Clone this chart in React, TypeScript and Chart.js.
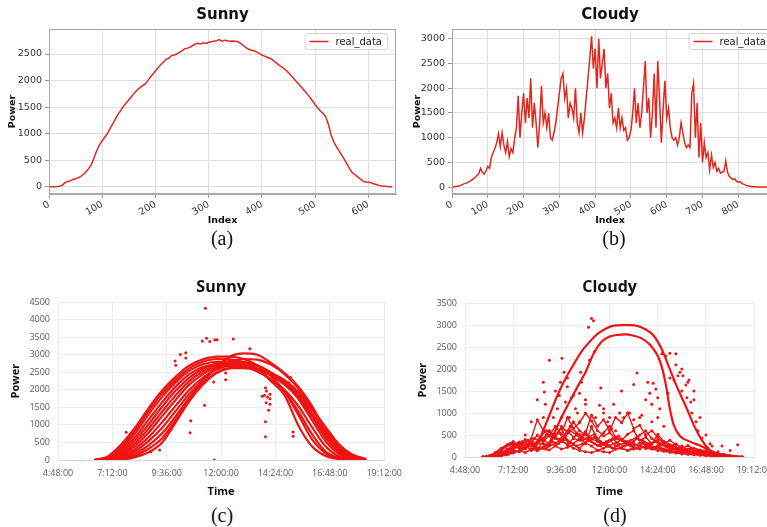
import React, { useEffect, useRef } from "react";
import { Chart, registerables } from "chart.js";
Chart.register(...registerables);

// ---------------- (a) Sunny, index series ----------------
const sunnyIndexStep = 5;
const sunnyPower = [
  5, 3, 6, 8, 12, 35, 80, 105, 115, 140, 155, 175, 200, 240, 290, 350, 430, 560, 690, 790,
  870, 940, 1010, 1100, 1190, 1280, 1370, 1440, 1520, 1580, 1640, 1700, 1760, 1820, 1860, 1900, 1930, 1990, 2060, 2120,
  2180, 2240, 2300, 2350, 2400, 2420, 2470, 2480, 2500, 2530, 2560, 2600, 2610, 2630, 2660, 2690, 2700, 2690, 2710, 2700,
  2720, 2730, 2740, 2750, 2770, 2740, 2760, 2750, 2740, 2745, 2740, 2730, 2700, 2660, 2620, 2590, 2570, 2560, 2540, 2510,
  2480, 2460, 2440, 2420, 2390, 2350, 2310, 2270, 2240, 2200, 2150, 2090, 2040, 1980, 1920, 1870, 1810, 1750, 1690, 1620,
  1550, 1490, 1430, 1380, 1320, 1180, 980, 850, 760, 680, 600, 520, 430, 340, 270, 230, 190, 150, 110, 95,
  90, 80, 60, 45, 30, 20, 15, 10, 5, 3,
];
const sunnyIndexTicks = [0, 100, 200, 300, 400, 500, 600];
const sunnyPowerTicks = [0, 500, 1000, 1500, 2000, 2500];

// ---------------- (b) Cloudy, index series ----------------
const cloudyIndexStep = 5;
const cloudyPower = [
  5, 8, 10, 15, 20, 40, 55, 70, 80, 100, 120, 140, 170, 200, 240, 270, 380, 300, 260, 330,
  420, 380, 600, 700, 780, 900, 1080, 820, 1100, 850, 700, 920, 620, 780, 700, 980, 1200, 1850, 1000, 1500,
  1900, 1300, 1800, 1400, 2200, 1200, 1700, 1300, 800, 1300, 2050, 1300, 1500, 1200, 1500, 1000, 950, 1100, 1300, 1600,
  1900, 2200, 2300, 1800, 2000, 1400, 1700, 1600, 1400, 2000, 1300, 1100, 1500, 1100, 1400, 1800, 2200, 2600, 3050, 2400,
  2800, 2000, 3000, 2200, 2500, 2800, 2000, 2300, 1600, 1900, 1300, 1400, 1200, 1600, 1200, 1400, 1150, 1200, 950, 1000,
  1150, 1500, 2000, 1300, 1700, 1200, 1500, 2000, 2550, 1500, 1800, 1000, 1500, 2300, 1200, 2550, 1800, 900, 1600, 2150,
  1400, 1600, 1200, 1000, 950, 1000, 850, 1000, 1300, 1100, 900, 800, 850, 800, 1900, 2100, 1000, 1700, 600, 1300,
  500, 900, 600, 700, 350, 650, 400, 500, 320, 380, 280, 300, 320, 530, 300, 220, 180, 150, 170, 120,
  100, 110, 70, 60, 40, 30, 20, 10, 8, 5, 5, 3, 3, 2, 2, 1, 0,
];
const cloudyIndexTicks = [0, 100, 200, 300, 400, 500, 600, 700, 800];
const cloudyPowerTicks = [0, 500, 1000, 1500, 2000, 2500, 3000];

// ---------------- shared time axis for (c) and (d) ----------------
const timeTicks = [4.8, 7.2, 9.6, 12, 14.4, 16.8, 19.2];
const timeTickLabels = ["4:48:00", "7:12:00", "9:36:00", "12:00:00", "14:24:00", "16:48:00", "19:12:00"];

// ---------------- (c) Sunny days ----------------
const sunnyDayHours = [6.4, 7.0, 7.6, 8.2, 8.8, 9.4, 10.0, 10.6, 11.2, 11.8, 12.4, 13.0, 13.6, 14.2, 14.8, 15.4, 16.0, 16.6, 17.2, 17.8, 18.4];
const sunnyDay1 = [0, 100, 450, 920, 1480, 1980, 2380, 2700, 2870, 2950, 2950, 2880, 2700, 2400, 1950, 1300, 600, 200, 40, 5, 0];
const sunnyDay2 = [0, 80, 380, 850, 1400, 1900, 2300, 2620, 2800, 2880, 2870, 2780, 2600, 2250, 1850, 1000, 400, 120, 25, 0, 0];
const sunnyDay3 = [0, 60, 320, 760, 1300, 1800, 2220, 2550, 2730, 2800, 2800, 2720, 2560, 2300, 1950, 1400, 750, 250, 60, 10, 0];
const sunnyDay4 = [0, 40, 260, 650, 1150, 1650, 2100, 2450, 2650, 2730, 2740, 2680, 2520, 2300, 2000, 1550, 950, 400, 100, 20, 0];
const sunnyDay5 = [0, 30, 200, 560, 1020, 1520, 1980, 2350, 2600, 2750, 2820, 2800, 2700, 2500, 2200, 1750, 1150, 550, 170, 40, 0];
const sunnyDay6 = [0, 20, 160, 470, 900, 1380, 1850, 2250, 2530, 2700, 2780, 2770, 2680, 2480, 2180, 1800, 1250, 650, 230, 60, 5];
const sunnyDay7 = [0, 10, 120, 400, 780, 1250, 1720, 2150, 2450, 2650, 2720, 2700, 2600, 2420, 2150, 1780, 1300, 720, 280, 80, 10];
const sunnyDay8 = [0, 5, 80, 320, 650, 1080, 1550, 2000, 2350, 2580, 2680, 2680, 2600, 2450, 2200, 1850, 1350, 780, 320, 100, 10];
const sunnyDay9 = [0, 0, 50, 250, 540, 920, 1400, 1880, 2280, 2600, 2800, 2880, 2860, 2720, 2450, 2050, 1500, 900, 400, 130, 15];
const sunnyDay10 = [0, 0, 30, 180, 420, 760, 1250, 1780, 2250, 2650, 2950, 3040, 3000, 2770, 2480, 2100, 1550, 850, 330, 130, 20];
const sunnyDay11 = [0, 0, 20, 120, 320, 620, 1150, 1720, 2180, 2500, 2620, 2620, 2560, 2420, 2200, 1900, 1450, 900, 420, 140, 20];
const sunnyDay12 = [0, 0, 10, 80, 220, 500, 1080, 1680, 2150, 2480, 2620, 2650, 2600, 2480, 2280, 1950, 1480, 950, 450, 150, 25];
const sunnyDays = [sunnyDay1, sunnyDay2, sunnyDay3, sunnyDay4, sunnyDay5, sunnyDay6, sunnyDay7, sunnyDay8, sunnyDay9, sunnyDay10, sunnyDay11, sunnyDay12];
const sunnyOutlierHours = [11.31, 11.36, 11.17, 11.5, 11.72, 11.82, 12.54, 13.27, 10.2, 10.44, 10.44, 9.97, 10.0, 12.2, 12.2, 11.67, 15.07, 15.0, 13.96, 14.0, 13.92, 13.82, 14.05, 14.16, 14.16, 13.99, 14.16, 14.1, 13.96, 13.96, 11.27, 10.66, 10.63, 15.18, 15.18, 7.81, 8.9, 9.29, 11.7];
const sunnyOutlierPower = [4330, 3475, 3390, 3380, 3430, 3430, 3450, 3170, 3010, 3060, 2910, 2820, 2700, 2480, 2290, 2225, 2350, 2200, 2060, 1970, 1850, 1820, 1800, 1875, 1750, 1630, 1590, 1420, 1090, 660, 1560, 1120, 780, 800, 680, 790, 240, 285, 0];
const sunnyPowerTicksC = [0, 500, 1000, 1500, 2000, 2500, 3000, 3500, 4000, 4500];

// ---------------- (d) Cloudy days ----------------
const cloudyArcHighHours = [8.2, 8.6, 9.0, 9.4, 9.8, 10.2, 10.6, 11.0, 11.4, 11.8, 12.2, 12.6, 13.0, 13.4, 13.8, 14.2, 14.6, 15.0, 15.4, 15.8, 16.2, 16.6, 17.0, 17.4];
const cloudyArcHighPower = [150, 500, 950, 1400, 1780, 2100, 2400, 2620, 2800, 2920, 2990, 3000, 3000, 2980, 2900, 2760, 2450, 2000, 1550, 1150, 720, 380, 150, 40];
const cloudyArcLowHours = [8.8, 9.2, 9.6, 10.0, 10.4, 10.8, 11.2, 11.6, 12.0, 12.4, 12.8, 13.2, 13.6, 14.0, 14.4, 14.6, 14.8, 15.0, 15.2, 15.5, 16.0, 16.5, 17.0, 17.5, 18.0];
const cloudyArcLowPower = [150, 500, 900, 1250, 1600, 1930, 2350, 2620, 2740, 2780, 2790, 2760, 2700, 2560, 2300, 2050, 1650, 1100, 720, 480, 350, 260, 150, 60, 10];
const cloudyNoiseHours = [5.7, 6.0, 6.3, 6.6, 6.9, 7.2, 7.5, 7.8, 8.1, 8.4, 8.7, 9.0, 9.3, 9.6, 9.9, 10.2, 10.5, 10.8, 11.1, 11.4, 11.7, 12.0, 12.3, 12.6, 12.9, 13.2, 13.5, 13.8, 14.1, 14.4, 14.7, 15.0, 15.3, 15.6, 15.9, 16.2, 16.5, 16.8, 17.1, 17.4, 17.7, 18.0, 18.3, 18.6];
const cloudyNoiseHoursB = [5.85, 6.15, 6.45, 6.75, 7.05, 7.35, 7.65, 7.95, 8.25, 8.55, 8.85, 9.15, 9.45, 9.75, 10.05, 10.35, 10.65, 10.95, 11.25, 11.55, 11.85, 12.15, 12.45, 12.75, 13.05, 13.35, 13.65, 13.95, 14.25, 14.55, 14.85, 15.15, 15.45, 15.75, 16.05, 16.35, 16.65, 16.95, 17.25, 17.55, 17.85, 18.15, 18.45];
const cloudyDay1 = [0, 20, 80, 150, 250, 300, 200, 320, 280, 180, 350, 500, 420, 380, 600, 450, 520, 300, 680, 400, 550, 700, 450, 380, 520, 600, 380, 450, 300, 520, 350, 250, 300, 200, 260, 180, 150, 120, 90, 60, 40, 20, 10, 0];
const cloudyDay2 = [0, 10, 40, 100, 180, 220, 330, 250, 150, 300, 420, 280, 500, 650, 380, 300, 420, 580, 350, 260, 300, 250, 180, 220, 280, 350, 500, 600, 420, 350, 280, 200, 180, 250, 150, 120, 100, 80, 50, 30, 20, 10, 0, 0];
const cloudyDay3 = [0, 0, 20, 60, 120, 160, 120, 200, 250, 180, 220, 300, 260, 350, 300, 420, 380, 550, 950, 700, 850, 600, 900, 780, 1000, 650, 720, 500, 600, 450, 300, 380, 280, 220, 180, 160, 130, 110, 80, 50, 30, 15, 5, 0];
const cloudyDay4 = [0, 5, 30, 90, 160, 280, 340, 180, 420, 850, 600, 480, 700, 520, 900, 650, 780, 1000, 820, 600, 480, 550, 420, 380, 300, 250, 320, 280, 200, 260, 180, 150, 120, 100, 90, 70, 50, 40, 30, 20, 10, 5, 0, 0];
const cloudyDay5 = [0, 0, 10, 40, 80, 120, 150, 100, 180, 140, 200, 160, 250, 180, 220, 280, 200, 320, 250, 150, 120, 100, 180, 200, 150, 220, 180, 260, 200, 240, 170, 130, 110, 150, 120, 100, 140, 110, 90, 70, 50, 30, 10, 0];
const cloudyDay6 = [0, 0, 15, 50, 100, 200, 300, 500, 800, 1300, 1700, 2200, 1500, 900, 1800, 1400, 800, 1200, 700, 400, 1100, 900, 600, 1500, 1000, 1650, 900, 500, 800, 1350, 700, 1800, 2350, 2000, 1700, 1300, 900, 500, 250, 120, 50, 20, 5, 0];
const cloudyDay7 = [0, 30, 100, 200, 280, 350, 250, 400, 300, 500, 380, 600, 450, 700, 550, 800, 600, 500, 420, 350, 300, 380, 250, 200, 150, 180, 250, 200, 300, 400, 350, 280, 220, 180, 150, 200, 160, 140, 110, 80, 60, 30, 10, 0];
const cloudyDay8 = [0, 0, 5, 20, 50, 90, 140, 200, 260, 320, 300, 250, 320, 380, 280, 200, 150, 120, 100, 150, 200, 260, 320, 400, 350, 300, 250, 200, 180, 150, 130, 110, 90, 70, 60, 50, 40, 30, 20, 10, 5, 0, 0, 0];
const cloudyDay9 = [10, 40, 120, 220, 300, 260, 350, 280, 420, 380, 500, 450, 550, 420, 600, 500, 380, 450, 520, 350, 300, 400, 480, 350, 300, 420, 380, 300, 350, 280, 220, 250, 180, 150, 200, 160, 120, 100, 80, 60, 40, 20, 5];
const cloudyDay10 = [5, 20, 60, 120, 180, 250, 200, 300, 250, 200, 280, 350, 300, 400, 320, 250, 300, 380, 450, 300, 250, 200, 280, 320, 250, 200, 300, 250, 200, 180, 150, 200, 150, 120, 100, 130, 90, 70, 50, 40, 20, 10, 0];
const cloudyDay11 = [0, 10, 30, 80, 150, 220, 300, 380, 300, 450, 600, 520, 400, 480, 700, 550, 450, 380, 300, 250, 350, 420, 300, 250, 380, 450, 350, 280, 220, 300, 250, 180, 140, 110, 90, 80, 70, 60, 45, 30, 15, 5, 0];
const cloudyLineDaysA = [cloudyDay1, cloudyDay2, cloudyDay3, cloudyDay4, cloudyDay5, cloudyDay7, cloudyDay8];
const cloudyLineDaysB = [cloudyDay9, cloudyDay10, cloudyDay11];
const cloudySpikeHours = [8.75, 8.8, 8.7, 9.63, 9.73, 9.55, 9.5, 9.9, 10.1, 10.3, 10.56, 10.6, 10.5, 10.95, 11.1, 11.2, 11.25, 11.0, 11.56, 11.5, 11.7, 12.2, 12.5, 13.36, 13.9, 14.0, 14.17, 14.1, 14.4, 14.6, 14.8, 15.0, 15.3, 15.5, 15.65, 15.8, 15.95, 16.04, 16.2, 16.3, 16.6, 16.88, 18.38,
  9.2, 9.4, 9.8, 10.0, 10.4, 10.8, 11.3, 11.9, 12.1, 12.7, 13.0, 13.2, 13.6, 13.8, 14.3, 14.5, 14.9, 15.2, 15.4, 15.6, 15.85, 16.1, 16.4, 17.0, 17.6, 18.0];
const cloudySpikePower = [1480, 1200, 900, 2250, 1930, 1700, 1400, 1600, 1350, 1100, 1930, 1700, 1450, 2950, 3150, 3100, 2400, 2200, 1570, 1180, 1000, 1200, 1000, 1909, 1700, 1450, 1680, 1200, 900, 2350, 2300, 2360, 2100, 1930, 1850, 1640, 1750, 1250, 1500, 800, 430, 200, 280,
  900, 1100, 1250, 900, 1000, 1300, 900, 800, 650, 900, 1000, 850, 950, 1300, 1550, 1100, 1450, 1750, 1850, 1500, 1350, 1000, 600, 300, 250, 150];
const cloudyPowerTicksD = [0, 500, 1000, 1500, 2000, 2500, 3000, 3500];

// ---------------- styling ----------------
const MPL_RED = "#e3281f";
const XL_RED = "#ee1414";
const mplFont = '"DejaVu Sans", sans-serif';
const xlFont = '"Open Sans", "Noto Sans", sans-serif';

const pairs = (xs: number[], ys: number[]) => xs.map((x, i) => ({ x, y: ys[i] }));

const framePlugin = {
  id: "mplFrame",
  afterDatasetsDraw(chart: any, _a: any, opts: any) {
    if (!opts || !opts.color) return;
    const { ctx, chartArea } = chart;
    const l = Math.round(chartArea.left) + 0.5;
    const t = Math.round(chartArea.top) + 0.5;
    const r = Math.round(chartArea.right) - 0.5;
    const b = Math.round(chartArea.bottom) - 0.5;
    ctx.save();
    ctx.strokeStyle = opts.color;
    ctx.lineWidth = 1;
    ctx.strokeRect(l, t, r - l, b - t);
    ctx.restore();
  },
};

const legendPlugin = {
  id: "mplLegend",
  afterDraw(chart: any, _a: any, opts: any) {
    if (!opts || !opts.text) return;
    const { ctx, chartArea } = chart;
    ctx.save();
    ctx.font = `10px ${mplFont}`;
    const tw = ctx.measureText(opts.text).width;
    const lineLen = 19, padL = 5, gap = 7, padR = 5, h = 16;
    const w = padL + lineLen + gap + tw + padR;
    const x = chartArea.right - opts.rightGap - w;
    const y = chartArea.top + opts.topGap;
    ctx.beginPath();
    (ctx as any).roundRect(x + 0.5, y + 0.5, w, h, 2.5);
    ctx.fillStyle = "rgba(255,255,255,0.85)";
    ctx.fill();
    ctx.strokeStyle = "#d4d4d4";
    ctx.lineWidth = 1;
    ctx.stroke();
    ctx.beginPath();
    ctx.moveTo(x + padL, y + h / 2 + 0.5);
    ctx.lineTo(x + padL + lineLen, y + h / 2 + 0.5);
    ctx.strokeStyle = MPL_RED;
    ctx.lineWidth = 1.5;
    ctx.stroke();
    ctx.fillStyle = "#222";
    ctx.textBaseline = "middle";
    ctx.textAlign = "left";
    ctx.fillText(opts.text, x + padL + lineLen + gap, y + h / 2 + 1);
    ctx.restore();
  },
};

function fixedTicks(values: number[]) {
  return (axis: any) => {
    axis.ticks = values.map((v) => ({ value: v }));
  };
}

function mplConfig(p: any) {
  return {
    type: "scatter",
    data: {
      datasets: [
        {
          data: p.power.map((v: number, i: number) => ({ x: i * p.step, y: v })),
          showLine: true,
          borderColor: MPL_RED,
          borderWidth: 1.5,
          pointRadius: 0,
          tension: 0,
        },
      ],
    },
    options: {
      animation: false,
      responsive: false,
      devicePixelRatio: 1,
      events: [],
      layout: { padding: { left: 0, right: p.rightPad, top: 0, bottom: 0 } },
      plugins: {
        legend: { display: false },
        tooltip: { enabled: false },
        title: {
          display: true,
          text: p.title,
          fullSize: false,
          font: { family: mplFont, size: 15, weight: "bold" },
          color: "#111",
          padding: { top: 6, bottom: 5 },
        },
        mplFrame: { color: "#a8a8a8" },
        mplLegend: { text: "real_data", rightGap: p.legendRightGap, topGap: 4 },
      },
      scales: {
        x: {
          type: "linear",
          min: 0,
          max: p.xMax,
          afterBuildTicks: fixedTicks(p.xTicks),
          afterFit: (s: any) => { s.height = 38; },
          ticks: {
            minRotation: 30,
            maxRotation: 30,
            autoSkip: false,
            padding: 1,
            font: { family: mplFont, size: 9.5 },
            color: "#333",
            callback: (v: any) => String(v),
          },
          grid: { color: "#dedede", tickColor: "#999", tickLength: 4, drawTicks: true },
          border: { color: "#a8a8a8" },
          title: {
            display: true,
            text: "Index",
            font: { family: mplFont, size: 9.5, weight: "bold" },
            color: "#111",
            padding: { top: 0, bottom: 6 },
          },
        },
        y: {
          type: "linear",
          min: p.yMin,
          max: p.yMax,
          afterBuildTicks: fixedTicks(p.yTicks),
          afterFit: (s: any) => { s.width = p.yWidth; },
          ticks: {
            padding: 3,
            font: { family: mplFont, size: 9.5 },
            color: "#333",
            callback: (v: any) => String(v),
          },
          grid: { color: "#dedede", tickColor: "#999", tickLength: 4, drawTicks: true },
          border: { color: "#a8a8a8" },
          title: {
            display: true,
            text: "Power",
            font: { family: mplFont, size: 9.5, weight: "bold" },
            color: "#111",
            padding: { top: p.yTitleOffset, bottom: 0 },
          },
        },
      },
    },
    plugins: [framePlugin, legendPlugin],
  };
}

function xlConfig(p: any) {
  return {
    type: "scatter",
    data: { datasets: p.datasets },
    options: {
      animation: false,
      responsive: false,
      devicePixelRatio: 1,
      events: [],
      layout: { padding: { left: 0, right: p.rightPad, top: 0, bottom: 0 } },
      plugins: {
        legend: { display: false },
        tooltip: { enabled: false },
        title: {
          display: true,
          text: p.title,
          fullSize: false,
          font: { family: xlFont, size: 16, weight: "bold" },
          color: "#111",
          padding: { top: 8, bottom: p.titleBottom },
        },
      },
      scales: {
        x: {
          type: "linear",
          min: 4.8,
          max: 19.2,
          afterBuildTicks: fixedTicks(timeTicks),
          afterFit: (s: any) => { s.height = p.xHeight; },
          ticks: {
            minRotation: 0,
            maxRotation: 0,
            autoSkip: false,
            padding: 8,
            font: { family: xlFont, size: 9 },
            color: "#595959",
            callback: (_v: any, i: number) => timeTickLabels[i],
          },
          grid: { color: "#ececec", drawTicks: false },
          border: { color: "#d9d9d9" },
          title: {
            display: true,
            text: "Time",
            font: { family: xlFont, size: 11, weight: "bold" },
            color: "#111",
            padding: { top: 0, bottom: 4 },
          },
        },
        y: {
          type: "linear",
          min: 0,
          max: p.yMax,
          afterBuildTicks: fixedTicks(p.yTicks),
          afterFit: (s: any) => { s.width = p.yWidth; },
          ticks: {
            padding: 8,
            font: { family: xlFont, size: 9 },
            color: "#595959",
            callback: (v: any) => String(v),
          },
          grid: { color: "#ececec", drawTicks: false },
          border: { display: false },
          title: {
            display: true,
            text: "Power",
            font: { family: xlFont, size: 11, weight: "bold" },
            color: "#111",
            padding: { top: p.yTitleOffset, bottom: 0 },
          },
        },
      },
    },
  };
}

const configA = () =>
  mplConfig({
    power: sunnyPower, step: sunnyIndexStep, xMax: 652, yMin: -132, yMax: 2970,
    xTicks: sunnyIndexTicks, yTicks: sunnyPowerTicks, title: "Sunny",
    rightPad: 4, legendRightGap: 9, yWidth: 49, yTitleOffset: 7,
  });

const configB = () =>
  mplConfig({
    power: cloudyPower, step: cloudyIndexStep, xMax: 883, yMin: -140, yMax: 3200,
    xTicks: cloudyIndexTicks, yTicks: cloudyPowerTicks, title: "Cloudy",
    rightPad: 14, legendRightGap: -3, yWidth: 50, yTitleOffset: 10,
  });

const configC = () =>
  xlConfig({
    title: "Sunny", titleBottom: 5, xHeight: 42, yMax: 4500, yTicks: sunnyPowerTicksC,
    yWidth: 58, yTitleOffset: 9, rightPad: 20,
    datasets: [
      ...sunnyDays.map((day) => ({
        data: pairs(sunnyDayHours, day),
        showLine: true,
        borderColor: XL_RED,
        borderWidth: 2.2,
        pointRadius: 0,
        cubicInterpolationMode: "monotone",
      })),
      {
        data: pairs(sunnyOutlierHours, sunnyOutlierPower),
        pointRadius: 1.5,
        pointBorderWidth: 0,
        pointBackgroundColor: XL_RED,
      },
    ],
  });

const noiseLine = (hours: number[], day: number[]) => ({
  data: pairs(hours, day),
  showLine: true,
  borderColor: XL_RED,
  borderWidth: 1.4,
  pointRadius: 1.5,
  pointBorderWidth: 0,
  pointBackgroundColor: XL_RED,
  tension: 0,
});

const configD = () =>
  xlConfig({
    title: "Cloudy", titleBottom: 6, xHeight: 45, yMax: 3500, yTicks: cloudyPowerTicksD,
    yWidth: 65, yTitleOffset: 16, rightPad: 23,
    datasets: [
      ...cloudyLineDaysA.map((day) => noiseLine(cloudyNoiseHours, day)),
      ...cloudyLineDaysB.map((day) => noiseLine(cloudyNoiseHoursB, day)),
      {
        data: pairs(cloudyNoiseHours, cloudyDay6),
        pointRadius: 1.5,
        pointBorderWidth: 0,
        pointBackgroundColor: XL_RED,
      },
      {
        data: pairs(cloudyArcHighHours, cloudyArcHighPower),
        showLine: true,
        borderColor: XL_RED,
        borderWidth: 2.2,
        pointRadius: 0,
        cubicInterpolationMode: "monotone",
      },
      {
        data: pairs(cloudyArcLowHours, cloudyArcLowPower),
        showLine: true,
        borderColor: XL_RED,
        borderWidth: 2.2,
        pointRadius: 0,
        cubicInterpolationMode: "monotone",
      },
      {
        data: pairs(cloudySpikeHours, cloudySpikePower),
        pointRadius: 1.5,
        pointBorderWidth: 0,
        pointBackgroundColor: XL_RED,
      },
    ],
  });

function ChartCanvas(props: { left: number; top: number; width: number; height: number; build: () => any }) {
  const ref = useRef<HTMLCanvasElement>(null);
  useEffect(() => {
    const chart = new Chart(ref.current as HTMLCanvasElement, props.build());
    return () => chart.destroy();
  }, []);
  return (
    <canvas
      ref={ref}
      width={props.width}
      height={props.height}
      style={{ position: "absolute", left: props.left, top: props.top, width: props.width, height: props.height }}
    />
  );
}

function Caption(props: { cx: number; top: number; text: string }) {
  return (
    <div
      style={{
        position: "absolute",
        left: props.cx - 40,
        top: props.top,
        width: 80,
        textAlign: "center",
        fontFamily: '"Liberation Serif", "DejaVu Serif", serif',
        fontSize: 20,
        lineHeight: "20px",
        color: "#111",
      }}
    >
      {props.text}
    </div>
  );
}

export default function App() {
  return (
    <div
      style={{
        position: "absolute",
        left: 0,
        top: 0,
        width: 767,
        height: 527,
        overflow: "hidden",
        background: "#fff",
      }}
    >
      <ChartCanvas left={0} top={0} width={400} height={232} build={configA} />
      <ChartCanvas left={402} top={0} width={380} height={232} build={configB} />
      <ChartCanvas left={0} top={270} width={410} height={232} build={configC} />
      <ChartCanvas left={400} top={270} width={380} height={232} build={configD} />
      <Caption cx={222} top={228} text="(a)" />
      <Caption cx={614} top={228} text="(b)" />
      <Caption cx={222} top={505} text="(c)" />
      <Caption cx={615} top={505} text="(d)" />
    </div>
  );
}
